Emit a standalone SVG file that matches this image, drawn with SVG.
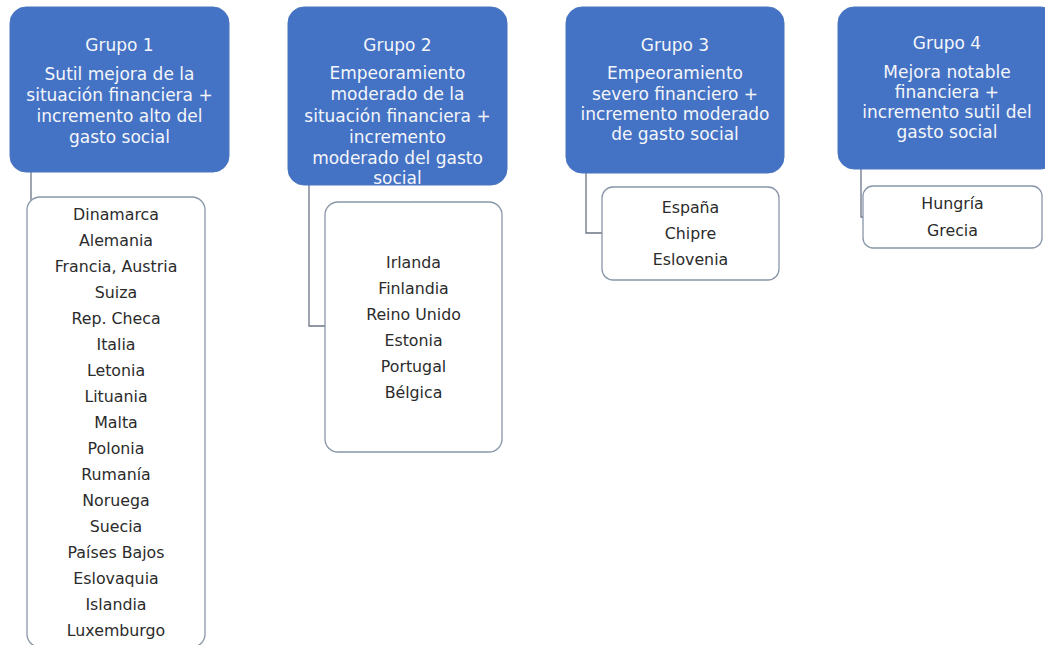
<svg xmlns="http://www.w3.org/2000/svg" width="1045" height="645" viewBox="0 0 1045 645">
<style>
.hdr{fill:#4472C4;stroke:#4a74bf;stroke-width:1}
.child{fill:#ffffff;stroke:#8896a8;stroke-width:1.3}
.ht{font-family:"DejaVu Sans","Liberation Sans",sans-serif;font-size:17px;fill:#f4f6fa;text-anchor:middle}
.ct{font-family:"DejaVu Sans","Liberation Sans",sans-serif;font-size:15.8px;fill:#2b2b2b;text-anchor:middle}
.conn{fill:none;stroke:#6b7686;stroke-width:1.3}
</style>
<rect width="1045" height="645" fill="#ffffff"/>
<g id="connectors">
<path class="conn" d="M31,172 V200"/>
<path class="conn" d="M309,185 V326 H325"/>
<path class="conn" d="M586,173 V233 H602"/>
<path class="conn" d="M861,169 V217 H863"/>
</g>
<g id="grupo1">
<rect class="hdr" x="10" y="7" width="219" height="165" rx="16"/>
<text class="ht" x="119.5" y="51">Grupo 1</text>
<text class="ht" x="119.5" y="80">Sutil mejora de la</text>
<text class="ht" x="119.5" y="101">situación financiera +</text>
<text class="ht" x="119.5" y="122">incremento alto del</text>
<text class="ht" x="119.5" y="143">gasto social</text>
</g>
<g id="lista1">
<rect class="child" x="27" y="197" width="178" height="450" rx="13"/>
<text class="ct" x="116" y="219.5">Dinamarca</text>
<text class="ct" x="116" y="245.5">Alemania</text>
<text class="ct" x="116" y="271.5">Francia, Austria</text>
<text class="ct" x="116" y="297.5">Suiza</text>
<text class="ct" x="116" y="323.5">Rep. Checa</text>
<text class="ct" x="116" y="349.5">Italia</text>
<text class="ct" x="116" y="375.5">Letonia</text>
<text class="ct" x="116" y="401.5">Lituania</text>
<text class="ct" x="116" y="427.5">Malta</text>
<text class="ct" x="116" y="453.5">Polonia</text>
<text class="ct" x="116" y="479.5">Rumanía</text>
<text class="ct" x="116" y="505.5">Noruega</text>
<text class="ct" x="116" y="531.5">Suecia</text>
<text class="ct" x="116" y="557.5">Países Bajos</text>
<text class="ct" x="116" y="583.5">Eslovaquia</text>
<text class="ct" x="116" y="609.5">Islandia</text>
<text class="ct" x="116" y="635.5">Luxemburgo</text>
</g>
<g id="grupo2">
<rect class="hdr" x="288" y="7" width="219" height="178" rx="16"/>
<text class="ht" x="397.5" y="51">Grupo 2</text>
<text class="ht" x="397.5" y="79">Empeoramiento</text>
<text class="ht" x="397.5" y="100">moderado de la</text>
<text class="ht" x="397.5" y="122">situación financiera +</text>
<text class="ht" x="397.5" y="143">incremento</text>
<text class="ht" x="397.5" y="164">moderado del gasto</text>
<text class="ht" x="397.5" y="184">social</text>
</g>
<g id="lista2">
<rect class="child" x="325" y="202" width="177" height="250" rx="13"/>
<text class="ct" x="413.5" y="267.5">Irlanda</text>
<text class="ct" x="413.5" y="293.5">Finlandia</text>
<text class="ct" x="413.5" y="319.5">Reino Unido</text>
<text class="ct" x="413.5" y="345.5">Estonia</text>
<text class="ct" x="413.5" y="371.5">Portugal</text>
<text class="ct" x="413.5" y="397.5">Bélgica</text>
</g>
<g id="grupo3">
<rect class="hdr" x="566" y="7" width="218" height="166" rx="16"/>
<text class="ht" x="675" y="51">Grupo 3</text>
<text class="ht" x="675" y="79">Empeoramiento</text>
<text class="ht" x="675" y="100">severo financiero +</text>
<text class="ht" x="675" y="120">incremento moderado</text>
<text class="ht" x="675" y="140">de gasto social</text>
</g>
<g id="lista3">
<rect class="child" x="602" y="187" width="177" height="93" rx="11"/>
<text class="ct" x="690.5" y="212.5">España</text>
<text class="ct" x="690.5" y="238.5">Chipre</text>
<text class="ct" x="690.5" y="264.5">Eslovenia</text>
</g>
<g id="grupo4">
<rect class="hdr" x="838" y="7" width="219" height="162" rx="16"/>
<text class="ht" x="947" y="49">Grupo 4</text>
<text class="ht" x="947" y="78">Mejora notable</text>
<text class="ht" x="947" y="98">financiera +</text>
<text class="ht" x="947" y="118">incremento sutil del</text>
<text class="ht" x="947" y="138">gasto social</text>
</g>
<g id="lista4">
<rect class="child" x="863" y="186" width="179" height="62" rx="10"/>
<text class="ct" x="952.5" y="208.5">Hungría</text>
<text class="ct" x="952.5" y="235.5">Grecia</text>
</g>
</svg>
